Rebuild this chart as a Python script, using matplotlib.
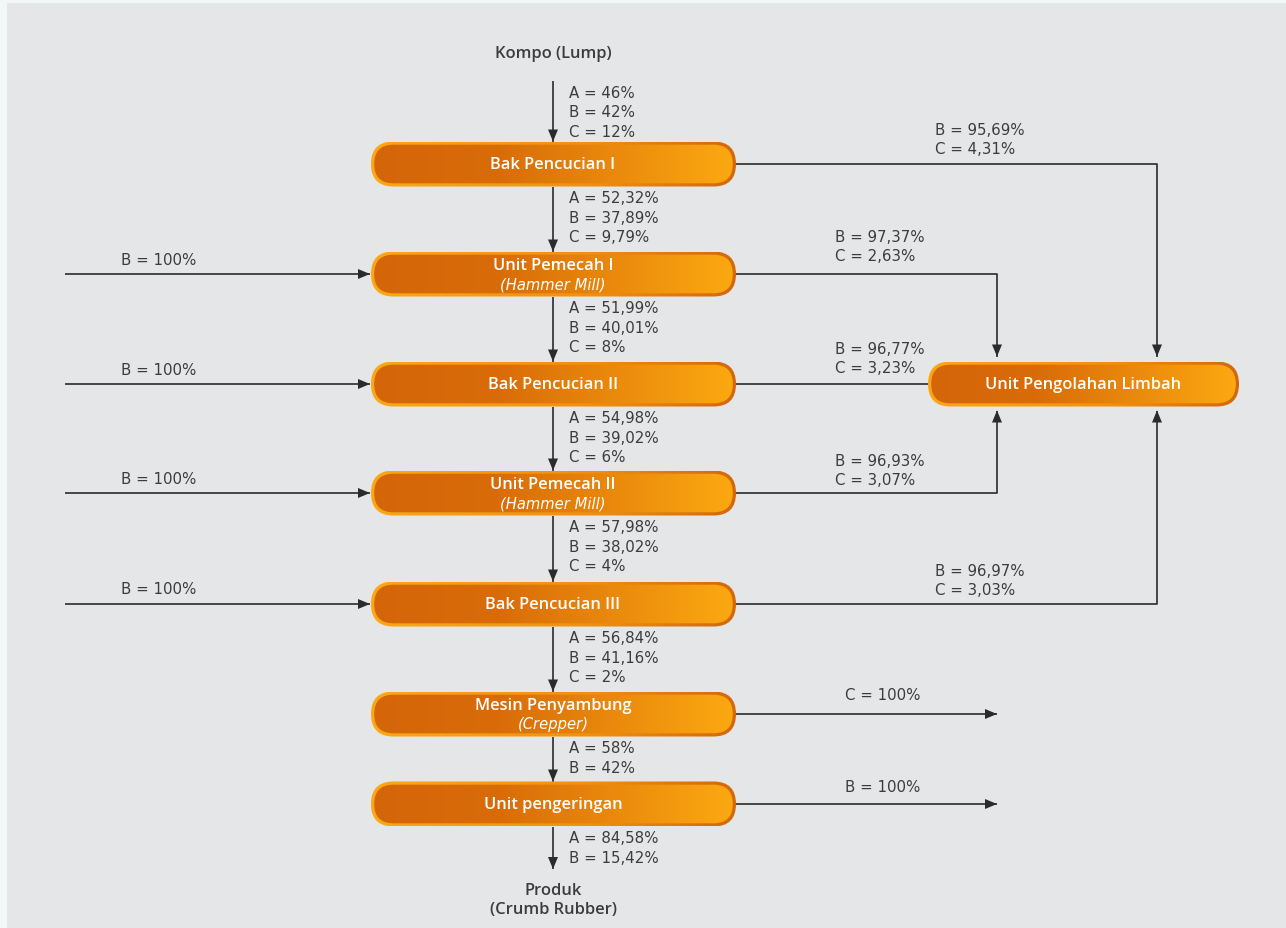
import matplotlib
matplotlib.use("Agg")
import matplotlib.pyplot as plt
import numpy as np
from matplotlib.patches import FancyBboxPatch, Rectangle
from matplotlib.colors import LinearSegmentedColormap

# ---------------- data ----------------
source_label = "Kompo (Lump)"
product_label = ["Produk", "(Crumb Rubber)"]
nodes = ["Bak Pencucian I", "Unit Pemecah I", "Bak Pencucian II", "Unit Pemecah II",
         "Bak Pencucian III", "Mesin Penyambung", "Unit pengeringan"]
node_subtitles = ["", "(Hammer Mill)", "", "(Hammer Mill)", "", "(Crepper)", ""]
waste_node = "Unit Pengolahan Limbah"
down_flows = [
    ["A = 46%", "B = 42%", "C = 12%"],
    ["A = 52,32%", "B = 37,89%", "C = 9,79%"],
    ["A = 51,99%", "B = 40,01%", "C = 8%"],
    ["A = 54,98%", "B = 39,02%", "C = 6%"],
    ["A = 57,98%", "B = 38,02%", "C = 4%"],
    ["A = 56,84%", "B = 41,16%", "C = 2%"],
    ["A = 58%", "B = 42%"],
    ["A = 84,58%", "B = 15,42%"],
]
input_flows = [None, "B = 100%", "B = 100%", "B = 100%", "B = 100%", None, None]
side_flows = [
    ["B = 95,69%", "C = 4,31%"],
    ["B = 97,37%", "C = 2,63%"],
    ["B = 96,77%", "C = 3,23%"],
    ["B = 96,93%", "C = 3,07%"],
    ["B = 96,97%", "C = 3,03%"],
    ["C = 100%"],
    ["B = 100%"],
]

# ---------------- layout ----------------
W, H = 1286, 929
fig = plt.figure(figsize=(W / 100, H / 100), dpi=100, facecolor="#f1f8f7")
ax = fig.add_axes([0, 0, 1, 1])
ax.set_xlim(0, W)
ax.set_ylim(H, 0)
ax.axis("off")

ax.add_patch(Rectangle((7, 4), W, H, facecolor="#e5e6e7", edgecolor="none", zorder=0))

BOLD_FONT = "Open Sans"
REG_FONT = "DejaVu Sans"
TXT = "#3c3c3c"
LINE = "#2b2b2b"
FS = 10.8        # regular labels
FSB = 11.9       # bold labels

fill_cmap = LinearSegmentedColormap.from_list(
    "fill", [(0, "#d4650a"), (0.35, "#d96c08"), (1, "#fca911")])
edge_cmap = LinearSegmentedColormap.from_list(
    "edge", [(0, "#fba813"), (0.6, "#f09010"), (1, "#d4670c")])


def pill(x0, x1, yc, h=45):
    y0 = yc - h / 2
    grad = np.linspace(0, 1, 256).reshape(1, -1)
    outer = FancyBboxPatch((x0, y0), x1 - x0, h,
                           boxstyle=f"round,pad=0,rounding_size={h/2}",
                           facecolor="none", edgecolor="none", zorder=3)
    ax.add_patch(outer)
    im = ax.imshow(grad, extent=[x0, x1, y0 + h, y0], cmap=edge_cmap,
                   aspect="auto", zorder=3, interpolation="bilinear")
    im.set_clip_path(outer)
    t = 3.2
    inner = FancyBboxPatch((x0 + t, y0 + t), x1 - x0 - 2 * t, h - 2 * t,
                           boxstyle=f"round,pad=0,rounding_size={h/2 - t}",
                           facecolor="none", edgecolor="none", zorder=4)
    ax.add_patch(inner)
    im2 = ax.imshow(grad, extent=[x0, x1, y0 + h, y0], cmap=fill_cmap,
                    aspect="auto", zorder=4, interpolation="bilinear")
    im2.set_clip_path(inner)


def arrow(xs, ys, head=True):
    ax.plot(xs, ys, color=LINE, lw=1.2, zorder=2, solid_capstyle="butt")
    if head:
        x1, y1 = xs[-1], ys[-1]
        x0, y0 = xs[-2], ys[-2]
        d = np.array([x1 - x0, y1 - y0], float)
        d /= np.linalg.norm(d)
        n = np.array([-d[1], d[0]])
        L, Wd = 12, 5
        tip = np.array([x1, y1])
        base = tip - d * L
        tri = np.array([tip, base + n * Wd, base - n * Wd])
        ax.fill(tri[:, 0], tri[:, 1], color=LINE, zorder=2, lw=0)


def label_lines(x, y0, lines, step=19.7):
    for i, s in enumerate(lines):
        ax.text(x, y0 + i * step, s, fontsize=FS, color=TXT, family=REG_FONT,
                ha="left", va="center")


BX0, BX1, BXC = 371, 736, 553
centers = [165, 275, 385, 494, 605, 715, 805]
BH = 45

# main boxes
for name, sub, yc in zip(nodes, node_subtitles, centers):
    pill(BX0, BX1, yc, BH)
    if sub:
        ax.text(BXC, yc - 9, name, fontsize=FSB, color="white", family=BOLD_FONT,
                weight="semibold", ha="center", va="center", zorder=5)
        ax.text(BXC, yc + 10, sub, fontsize=10.6, color="white", family=REG_FONT,
                style="italic", ha="center", va="center", zorder=5)
    else:
        ax.text(BXC, yc, name, fontsize=FSB, color="white", family=BOLD_FONT,
                weight="semibold", ha="center", va="center", zorder=5)

# waste box
WX0, WX1, WYC = 928, 1239, 385
pill(WX0, WX1, WYC, BH)
ax.text((WX0 + WX1) / 2, WYC, waste_node, fontsize=FSB, color="white",
        family=BOLD_FONT, weight="semibold", ha="center", va="center", zorder=5)

# source / product
ax.text(BXC, 54, source_label, fontsize=FSB, color=TXT, family=BOLD_FONT,
        weight="semibold", ha="center", va="center")
ax.text(BXC, 891, product_label[0], fontsize=FSB, color=TXT, family=BOLD_FONT,
        weight="semibold", ha="center", va="center")
ax.text(BXC, 910, product_label[1], fontsize=FSB, color=TXT, family=BOLD_FONT,
        weight="semibold", ha="center", va="center")

# vertical flows
tops = [82] + [c + BH / 2 for c in centers]
bottoms = [c - BH / 2 for c in centers] + [870]
for t, b, lines in zip(tops, bottoms, down_flows):
    arrow([BXC, BXC], [t, b])
    label_lines(569, t + 11, lines)

# input flows
for yc, lab in zip(centers, input_flows):
    if lab:
        arrow([65, BX0 - 1], [yc, yc])
        ax.text(121, yc - 15, lab, fontsize=FS, color=TXT, family=REG_FONT,
                ha="left", va="center")

# side flows
WT, WB = WYC - BH / 2 - 5, WYC + BH / 2 + 4
side_geom = [
    ([BX1, 1157, 1157], [165, 165, WT], 935, 130),
    ([BX1, 997, 997], [275, 275, WT], 835, 237),
    ([BX1, WX0], [385, 385], 835, 349),
    ([BX1, 997, 997], [494, 494, WB], 835, 461),
    ([BX1, 1157, 1157], [605, 605, WB], 935, 571),
    ([BX1, 997], [715, 715], 845, 696),
    ([BX1, 997], [805, 805], 845, 788),
]
for i, (lines, (xs, ys, lx, ly)) in enumerate(zip(side_flows, side_geom)):
    arrow(list(xs), list(ys), head=(i != 2))
    label_lines(lx, ly, lines)

fig.savefig("out.png", dpi=100, facecolor=fig.get_facecolor())
